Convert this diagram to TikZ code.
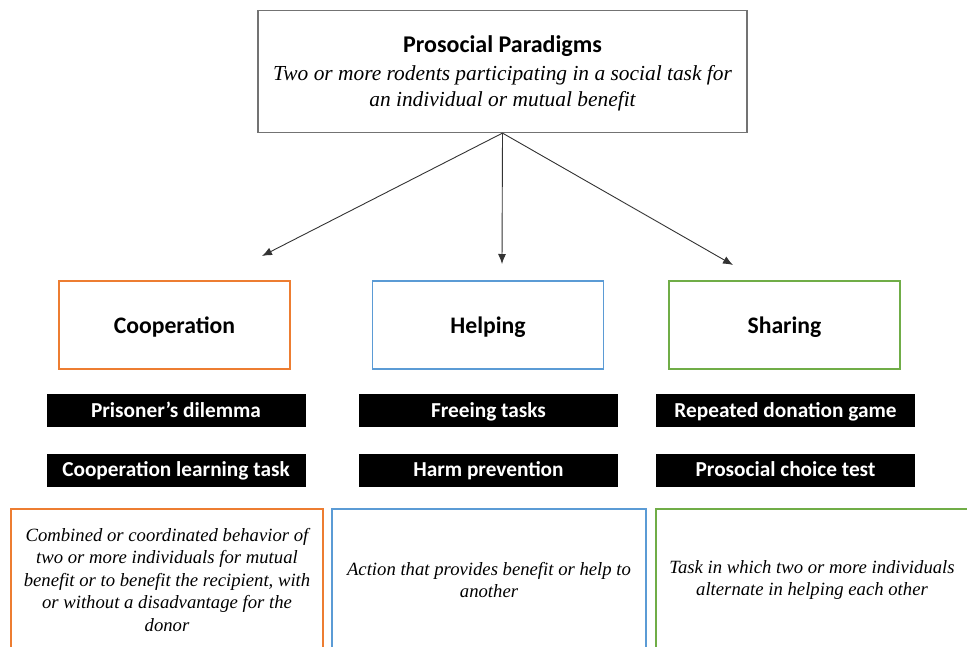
\documentclass[tikz,border=0pt]{standalone}
\usepackage{fontspec}
\setmainfont{Liberation Serif}
\newfontfamily\headfont{Carlito}
\usetikzlibrary{arrows.meta}

\definecolor{coopcol}{HTML}{ED7D31}
\definecolor{helpcol}{HTML}{5B9BD5}
\definecolor{sharecol}{HTML}{70AD47}

\begin{document}
\begin{tikzpicture}[x=1pt,y=-1pt,
	topbox/.style={draw=black!55,line width=1.2pt,minimum width=489pt,minimum height=122pt,align=center,font=\itshape\fontsize{21.4}{26}\selectfont},
	kindbox/.style={line width=1.8pt,minimum width=231pt,minimum height=88pt,text height=19pt,text depth=2.4pt,font=\headfont\bfseries\fontsize{23.7}{26}\selectfont},
	taskbar/.style={fill=black,text=white,minimum width=259pt,minimum height=33pt,inner sep=0pt,text height=15.5pt,text depth=2.5pt,font=\headfont\bfseries\fontsize{21.3}{24}\selectfont},
	defbox/.style={line width=1.8pt,minimum width=312pt,minimum height=142pt,align=center,font=\itshape\fontsize{18.7}{22.5}\selectfont},
	link/.style={draw=black!80,line width=0.9pt,-{Latex[length=10pt,width=8pt]}}]
	\useasboundingbox (0,0) rectangle (967,646);
	\clip (0,0) rectangle (967,646);
	% top of the tree
	\node[topbox] (P) at (502.5,71.5) {{\headfont\bfseries\upshape\fontsize{24}{26}\selectfont\rule{0pt}{21pt}Prosocial Paradigms}\\[2pt]
		Two or more rodents participating in a social task for\\
		an individual or mutual benefit};
	\coordinate (a1) at (262,256);
	\coordinate (a2) at (502,264);
	\coordinate (a3) at (733,265);
	\draw[link] (P.south) -- (a1);
	\draw[link] (P.south) -- (a2);
	\draw[link] (P.south) -- (a3);
	% three kinds
	\node[kindbox,draw=coopcol] (C) at (174.5,325) {Cooperation};
	\node[kindbox,draw=helpcol] (H) at (488,325) {Helping};
	\node[kindbox,draw=sharecol] (S) at (784.5,325) {Sharing};
	% tasks
	\node[taskbar] (C1) at (176,410.5) {Prisoner’s dilemma};
	\node[taskbar] (C2) at (176,470) {Cooperation learning task};
	\node[taskbar] (H1) at (488.5,410.5) {Freeing tasks};
	\node[taskbar] (H2) at (488.5,470) {Harm prevention};
	\node[taskbar] (S1) at (785.5,410.5) {Repeated donation game};
	\node[taskbar] (S2) at (785.5,470) {Prosocial choice test};
	% definitions
	\node[defbox,draw=coopcol] (Cd) at (167,580) {Combined or coordinated behavior of\\two or more individuals for mutual\\benefit or to benefit the recipient, with\\or without a disadvantage for the\\donor};
	\node[defbox,draw=helpcol,minimum width=314pt] (Hd) at (489,580) {Action that provides benefit or help to\\another};
	\node[defbox,draw=sharecol] (Sd) at (812,580) {Task in which two or more individuals\\alternate in helping each other};
\end{tikzpicture}
\end{document}
